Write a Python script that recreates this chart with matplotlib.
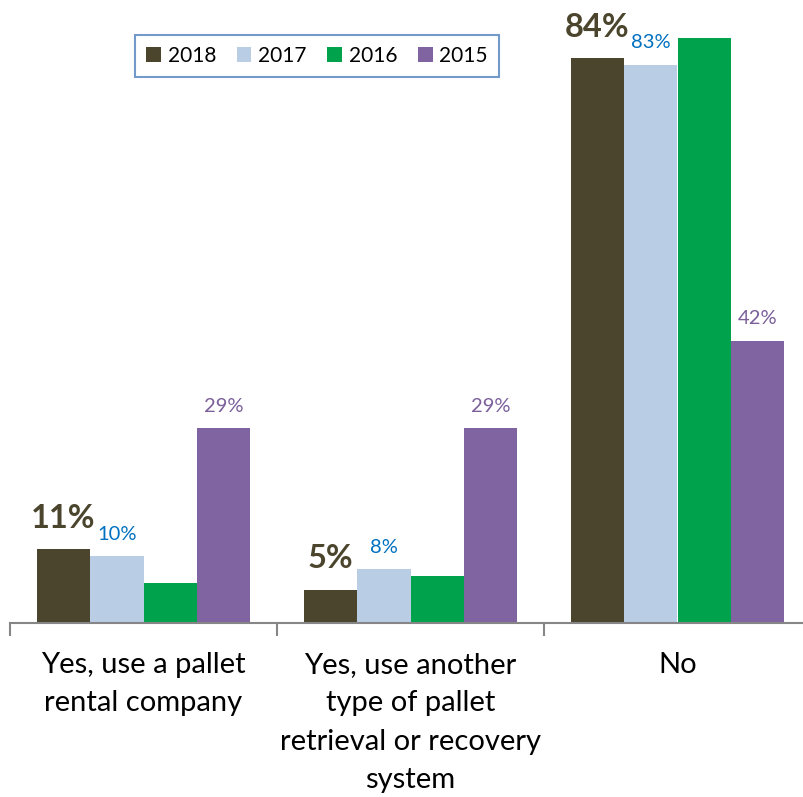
import matplotlib
matplotlib.use("Agg")
import matplotlib.pyplot as plt
import numpy as np

plt.rcParams['font.family'] = ['Lato', 'DejaVu Sans']

categories = ["Yes, use a pallet\nrental company",
              "Yes, use another\ntype of pallet\nretrieval or recovery\nsystem",
              "No"]
years = ["2018", "2017", "2016", "2015"]
v2018 = [11, 5, 84]
v2017 = [10, 8, 83]
v2016 = [6, 7, 87]
v2015 = [29, 29, 42]

colors = ["#4b452e", "#b9cde5", "#00a34c", "#8064a2"]
label_colors = ["#4b452e", "#0070c0", None, "#7a5f99"]

W, H = 804, 797
fig = plt.figure(figsize=(W / 100, H / 100), dpi=100)
base = 623.3
scale = 6.73
ax = fig.add_axes([10 / W, 1 - base / H, 801 / W, 90 * scale / H])

x = np.arange(len(categories))
bw = 0.2
series = [v2018, v2017, v2016, v2015]
for i, (vals, c) in enumerate(zip(series, colors)):
    pos = x - 0.3 + i * bw
    ax.bar(pos, vals, bw, color=c, label=years[i], zorder=2)
    if label_colors[i] is None:
        continue
    for p, v in zip(pos, vals):
        if i == 0:
            ax.text(p, v + 2.4, f"{v}%", ha="center", va="bottom", fontsize=23.5,
                    fontweight="bold", color=label_colors[i])
        else:
            ax.text(p, v + 2.0, f"{v}%", ha="center", va="bottom", fontsize=14.5,
                    color=label_colors[i])

ax.set_xlim(-0.5, 2.5)
ax.set_ylim(0, 90)
for s in ["top", "right", "left"]:
    ax.spines[s].set_visible(False)
ax.spines["bottom"].set_color("#868686")
ax.spines["bottom"].set_linewidth(1.5)
ax.set_yticks([])
ax.set_xticks([-0.5, 0.5, 1.5, 2.5])
ax.set_xticklabels([])
ax.tick_params(axis="x", length=9, width=1.5, color="#868686")

for xi, cat in zip(x, categories):
    ax.text(xi, -4.2, cat, ha="center", va="top", fontsize=21,
            linespacing=1.6, color="black")

leg = fig.legend(loc="center", bbox_to_anchor=(317 / W, 1 - 56 / H), ncol=4,
                 fontsize=15, frameon=True, fancybox=False, handlelength=0.7,
                 handleheight=0.7, handletextpad=0.32, columnspacing=1.0,
                 borderpad=0.55)
leg.get_frame().set_edgecolor("#4f81bd")
leg.get_frame().set_linewidth(1.5)

fig.savefig("out.png", dpi=100)
